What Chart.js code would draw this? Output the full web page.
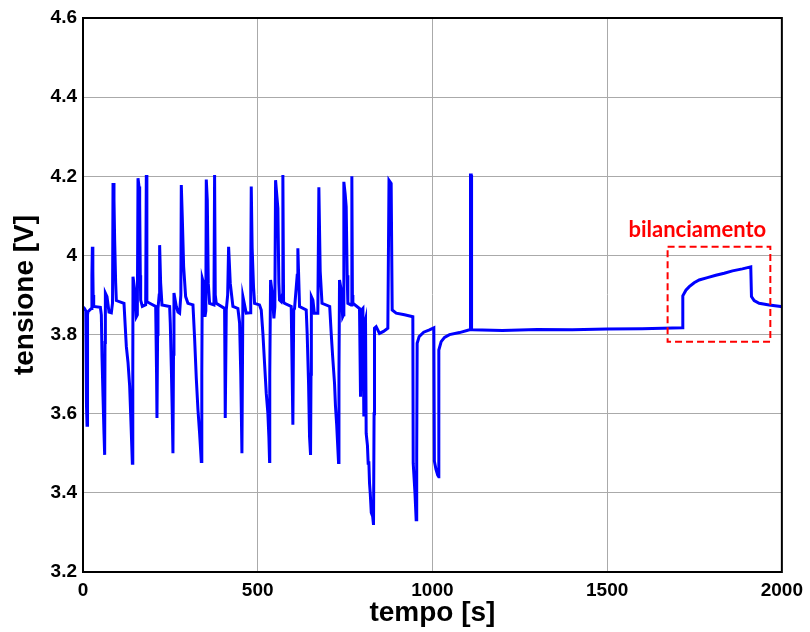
<!DOCTYPE html>
<html>
<head>
<meta charset="utf-8">
<script src="https://cdn.jsdelivr.net/npm/chart.js@4.4.1/dist/chart.umd.min.js"></script>
<style>
  body { margin: 0; background: #fff; }
  #wrap { width: 810px; height: 632px; }
</style>
</head>
<body>
<div id="wrap"><canvas id="cellChart" width="810" height="632"></canvas></div>
<script>
// tempo [s]
const tempo = [
  0, 4, 8, 10, 11.5, 13, 14.4, 23.9, 25.5, 26.8, 28.2, 29, 30.6,
  49.7, 52.5, 54.4, 57.3, 60.1, 62, 63, 64, 68.7, 74.4, 81.1, 84.5, 85.9, 88.7, 90.6, 93.5, 95.4,
  117.3, 121.1, 124, 128.8, 133.5, 136.4, 139.5, 141.2, 142.5, 143.1, 147.9, 152.6, 155.5,
  157.4, 160.3, 162.2, 164, 165, 169.8, 179.3, 181.2, 182.5, 183.1,
  208, 210.5, 211.7, 213.5, 214.6, 218, 219.3, 222.2, 226,
  247.9, 249.8, 252.7, 255.5, 257.4, 259, 260.3, 267, 271.8, 276.5, 280, 281.3, 284.1, 288, 293.7, 300.3,
  314.7, 319.4, 324.2, 329, 333.7, 338.5, 340, 341.4, 345.2, 349, 351.5, 352.8, 355.7, 358.5, 362.3,
  374.7, 376.6, 378.5, 381.4, 405.2, 407.1, 410, 414, 416.7, 421.4, 429,
  443.3, 448.1, 451.5, 454.8, 457.6, 467.2, 478.6, 480, 481.5, 484, 488, 491,
  505, 510.1, 514.8, 519.6, 524.4, 529.1, 532, 533.9, 534.5, 536.8, 541.5, 546.3, 549,
  551.1, 555, 557.7, 560.5, 562.5, 567.3, 570.5, 572, 574, 576.8,
  595.9, 600.6, 603, 605.4, 613, 614.9, 619.7,
  638.8, 641.5, 645.5, 648.3, 651.2, 652.5, 653.5, 658, 662, 672, 675, 678.8, 684,
  706, 710.3, 714.5, 719.8, 722.5, 726, 731.3, 732.5, 734.1, 738.8, 743, 745.5,
  746.5, 750.3, 753.2, 756, 758, 767, 769.4, 771, 772.3,
  791.3, 794.2, 797, 801, 803.7, 806.5, 808.5, 810.4, 814, 816.1, 818, 820, 822, 825, 829, 831.4,
  833, 834.2, 839, 848.5, 860, 872.4, 875.7, 881.9, 884.8, 896.2, 920, 943.9,
  945, 950, 953.4, 955, 956.3, 962, 975, 991.5, 1004,
  1005.6, 1010, 1015, 1018, 1018.3, 1025, 1034.6, 1048.9, 1077.5, 1106.1, 1108, 1109, 1111, 1112, 1113.7,
  1200, 1300, 1400, 1500, 1600, 1715.8,
  1716.5, 1725.4, 1735, 1749, 1763.3, 1787, 1811, 1835, 1858.7, 1887, 1911,
  1913, 1920.7, 1935, 1963.6, 1997, 2000
];

// tensione [V]
const tensione = [
  3.870, 3.866, 3.860, 3.620, 3.571, 3.850, 3.858, 3.866, 3.950, 4.022, 3.960, 3.900, 3.871,
  3.869, 3.850, 3.744, 3.643, 3.550, 3.496, 3.780, 3.905, 3.896, 3.857, 3.855, 3.880, 4.183, 4.140, 4.039, 3.930, 3.886,
  3.879, 3.817, 3.770, 3.730, 3.670, 3.600, 3.520, 3.475, 3.700, 3.946, 3.913, 3.845, 3.850,
  4.195, 4.174, 4.131, 3.950, 3.887, 3.871, 3.875, 4.203, 3.950, 3.883,
  3.871, 3.700, 3.589, 3.800, 3.866, 3.900, 4.026, 3.930, 3.875,
  3.871, 3.829, 3.720, 3.600, 3.500, 3.750, 3.905, 3.871, 3.857, 3.854, 3.900, 4.178, 4.098, 3.972, 3.896, 3.879,
  3.875, 3.790, 3.690, 3.610, 3.550, 3.479, 3.700, 3.942, 3.930, 3.845, 3.860, 4.192, 4.140, 3.930, 3.879,
  3.875, 4.203, 3.900, 3.879, 3.866, 3.589, 3.862, 3.900, 4.022, 3.930, 3.871,
  3.866, 3.830, 3.700, 3.500, 3.896, 3.854, 3.855, 3.950, 4.174, 4.020, 3.920, 3.879,
  3.875, 3.862, 3.803, 3.727, 3.652, 3.601, 3.540, 3.479, 3.700, 3.938, 3.905, 3.841, 3.870,
  4.190, 4.148, 4.119, 3.930, 3.887, 3.883, 3.900, 4.203, 3.883, 3.879,
  3.871, 3.572, 3.862, 3.866, 3.950, 4.018, 3.871,
  3.862, 3.803, 3.677, 3.542, 3.496, 3.700, 3.896, 3.887, 3.854, 3.854, 4.172, 3.960, 3.879,
  3.871, 3.803, 3.744, 3.677, 3.620, 3.572, 3.477, 3.700, 3.938, 3.913, 3.845, 3.850,
  4.186, 4.155, 4.123, 3.950, 3.879, 3.875, 4.200, 3.900, 3.879,
  3.866, 3.643, 3.862, 3.866, 3.593, 3.829, 3.837, 3.550, 3.520, 3.475, 3.480, 3.424, 3.400, 3.350, 3.340, 3.319,
  3.600, 3.816, 3.820, 3.803, 3.808, 3.816, 4.190, 4.182, 3.862, 3.854, 3.850, 3.845,
  3.475, 3.400, 3.332, 3.500, 3.778, 3.795, 3.806, 3.812, 3.817,
  3.480, 3.460, 3.445, 3.441, 3.761, 3.782, 3.793, 3.800, 3.805, 3.812, 3.812, 4.203, 4.203, 3.812, 3.812,
  3.810, 3.813, 3.812, 3.814, 3.815, 3.817,
  3.898, 3.912, 3.921, 3.931, 3.938, 3.944, 3.950, 3.955, 3.961, 3.966, 3.971,
  3.896, 3.886, 3.879, 3.875, 3.871, 3.870
];

const xTicks = [0, 500, 1000, 1500, 2000];
const yTicks = [3.2, 3.4, 3.6, 3.8, 4, 4.2, 4.4, 4.6];

// riquadro "bilanciamento" (in unita' dei dati)
const boxTempo = [1673, 1967];
const boxTensione = [3.782, 4.022];
const boxLabel = 'bilanciamento';
const boxLabelAt = [1758, 4.064];

const points = tempo.map((t, i) => ({ x: t, y: tensione[i] }));

const framePlugin = {
  id: 'frame',
  afterDatasetsDraw(chart) {
    const { ctx, chartArea: a, scales: { x, y } } = chart;
    ctx.save();
    // box
    ctx.strokeStyle = '#000';
    ctx.lineWidth = 2;
    ctx.strokeRect(a.left, a.top, a.right - a.left, a.bottom - a.top);
    // dashed red box
    const x0 = x.getPixelForValue(boxTempo[0]);
    const x1 = x.getPixelForValue(boxTempo[1]);
    const y0 = y.getPixelForValue(boxTensione[1]);
    const y1 = y.getPixelForValue(boxTensione[0]);
    ctx.strokeStyle = '#ff0000';
    ctx.lineWidth = 2;
    ctx.setLineDash([7, 4]);
    ctx.strokeRect(x0, y0, x1 - x0, y1 - y0);
    ctx.setLineDash([]);
    ctx.fillStyle = '#ff0000';
    ctx.font = 'bold 22px Lato';
    ctx.textAlign = 'center';
    ctx.textBaseline = 'middle';
    ctx.fillText(boxLabel, x.getPixelForValue(boxLabelAt[0]), y.getPixelForValue(boxLabelAt[1]));
    ctx.restore();
  }
};

new Chart(document.getElementById('cellChart'), {
  type: 'line',
  data: {
    datasets: [{
      data: points,
      borderColor: '#0000ff',
      borderWidth: 3,
      pointRadius: 0,
      tension: 0,
      fill: false
    }]
  },
  options: {
    responsive: false,
    animation: false,
    layout: { padding: { top: 18, right: 27, left: 0, bottom: 0 } },
    plugins: { legend: { display: false }, tooltip: { enabled: false } },
    scales: {
      x: {
        type: 'linear',
        min: 0,
        max: 2000,
        afterFit(s) { s.height = 60; },
        afterBuildTicks(s) { s.ticks = xTicks.map(v => ({ value: v })); },
        ticks: {
          padding: 7,
          color: '#000',
          font: { family: 'Liberation Sans', size: 19, weight: 'bold' },
          callback: v => String(v),
          maxRotation: 0
        },
        grid: { color: '#aaaaaa', lineWidth: 1, drawTicks: false },
        border: { color: '#000', width: 2 },
        title: {
          display: true,
          text: 'tempo [s]',
          color: '#000',
          font: { family: 'Liberation Sans', size: 28, weight: 'bold' },
          padding: { top: 0, bottom: 2 }
        }
      },
      y: {
        min: 3.2,
        max: 4.6,
        afterFit(s) { s.width = 83; },
        afterBuildTicks(s) { s.ticks = yTicks.map(v => ({ value: v })); },
        ticks: {
          padding: 6,
          color: '#000',
          font: { family: 'Liberation Sans', size: 19, weight: 'bold' },
          callback: v => String(Number(v.toFixed(1)))
        },
        grid: { color: '#aaaaaa', lineWidth: 1, drawTicks: false },
        border: { color: '#000', width: 2 },
        title: {
          display: true,
          text: 'tensione [V]',
          color: '#000',
          font: { family: 'Liberation Sans', size: 28, weight: 'bold' },
          padding: { top: 8, bottom: 0 }
        }
      }
    }
  },
  plugins: [framePlugin]
});
</script>
</body>
</html>
